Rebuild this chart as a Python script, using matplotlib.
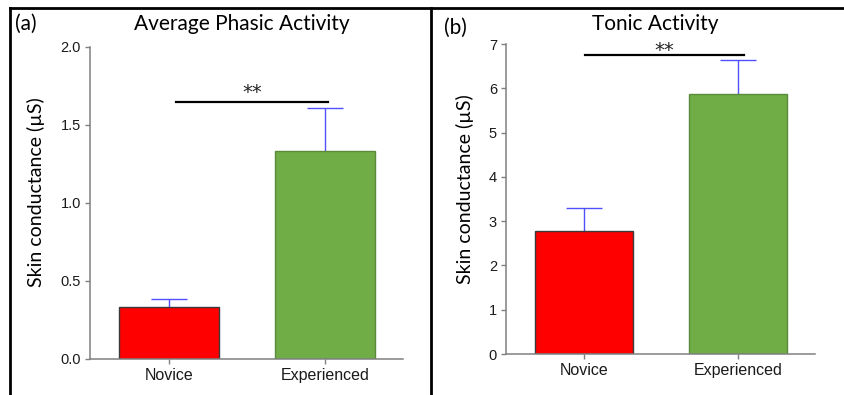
import matplotlib
matplotlib.use("Agg")
import matplotlib.pyplot as plt
from matplotlib.lines import Line2D

categories = ["Novice", "Experienced"]
phasic_means = [0.335, 1.333]
phasic_err = [0.05, 0.274]
tonic_means = [2.78, 5.86]
tonic_err = [0.52, 0.77]
phasic_yticks = [0.0, 0.5, 1.0, 1.5, 2.0]
phasic_yticklabels = ["0.0", "0.5", "1.0", "1.5", "2.0"]
tonic_yticks = [0, 1, 2, 3, 4, 5, 6, 7]
titles = ["Average Phasic Activity", "Tonic Activity"]
panel_labels = ["(a)", "(b)"]
ylabel = "Skin conductance (µS)"
sig_text = "**"

bar_colors = ["#FF0000", "#70AD47"]
edge_colors = ["#3a3a3a", "#5a8a3a"]
err_color = "#5050FF"
spine_color = "#808080"
tick_font = "Liberation Sans"
text_font = "Lato"

fig = plt.figure(figsize=(8.44, 3.95), dpi=100)

ax1 = fig.add_axes([90/844, 1-359/395, (403-90)/844, (359-47)/395])
ax2 = fig.add_axes([506/844, 1-354/395, (815-506)/844, (354-44)/395])

def style(ax, ylim, yticks, ylabels):
    x = list(range(len(categories)))
    ax.set_ylim(*ylim)
    ax.set_xlim(-0.505, 1.5)
    ax.set_yticks(yticks)
    ax.set_yticklabels(ylabels, fontfamily=tick_font, fontsize=10.5, color="#1a1a1a")
    ax.set_xticks(x)
    ax.set_xticklabels(categories, fontfamily=tick_font, fontsize=11.5, color="#1a1a1a")
    for s in ["top", "right"]:
        ax.spines[s].set_visible(False)
    for s in ["left", "bottom"]:
        ax.spines[s].set_color(spine_color)
        ax.spines[s].set_linewidth(1.1)
    ax.tick_params(axis="both", direction="out", length=3.5, width=1.0, color=spine_color, pad=3)
    ax.set_facecolor("none")

def draw(ax, means, errs):
    x = list(range(len(categories)))
    ax.bar(x, means, width=0.64, color=bar_colors, edgecolor=edge_colors, linewidth=1.0, zorder=2)
    _, caps, _ = ax.errorbar(x, means, yerr=[[0]*len(errs), errs], fmt="none", ecolor=err_color,
                             elinewidth=1.0, capsize=13, capthick=1.0, zorder=1)
    # keep only the upper caps
    caps[0].set_visible(False)

style(ax1, (0, 2.0), phasic_yticks, phasic_yticklabels)
draw(ax1, phasic_means, phasic_err)
style(ax2, (0, 7), tonic_yticks, [str(t) for t in tonic_yticks])
draw(ax2, tonic_means, tonic_err)

# significance
ax1.plot([0.047, 1.019], [1.65, 1.65], color="black", lw=1.6, clip_on=False)
ax1.text(0.533, 1.670, sig_text, ha="center", va="baseline", fontsize=14, fontfamily="DejaVu Sans", color="#222222")
ax2.plot([0.008, 1.039], [6.76, 6.76], color="black", lw=1.6, clip_on=False)
ax2.text(0.523, 6.74, sig_text, ha="center", va="baseline", fontsize=14, fontfamily="DejaVu Sans", color="#222222")

# titles, panel labels, y labels
fig.text(242/844, 1-24/395, titles[0], ha="center", va="center", fontsize=15, fontfamily=text_font)
fig.text(655/844, 1-24/395, titles[1], ha="center", va="center", fontsize=15, fontfamily=text_font)
fig.text(15/844, 1-24/395, panel_labels[0], ha="left", va="center", fontsize=15, fontfamily=text_font)
fig.text(444/844, 1-28/395, panel_labels[1], ha="left", va="center", fontsize=15, fontfamily=text_font)
fig.text(36/844, 1-192/395, ylabel, ha="center", va="center", rotation=90, fontsize=14, fontfamily=text_font)
fig.text(465/844, 1-189/395, ylabel, ha="center", va="center", rotation=90, fontsize=14, fontfamily=text_font)

# panel borders
lw = 2.0
fig.add_artist(Line2D([10/844, 1.0], [1-8/395, 1-8/395], color="black", lw=lw))
fig.add_artist(Line2D([10/844, 10/844], [0, 1-8/395], color="black", lw=lw))
fig.add_artist(Line2D([431/844, 431/844], [0, 1-8/395], color="black", lw=lw))

fig.savefig("out.png", dpi=100)
